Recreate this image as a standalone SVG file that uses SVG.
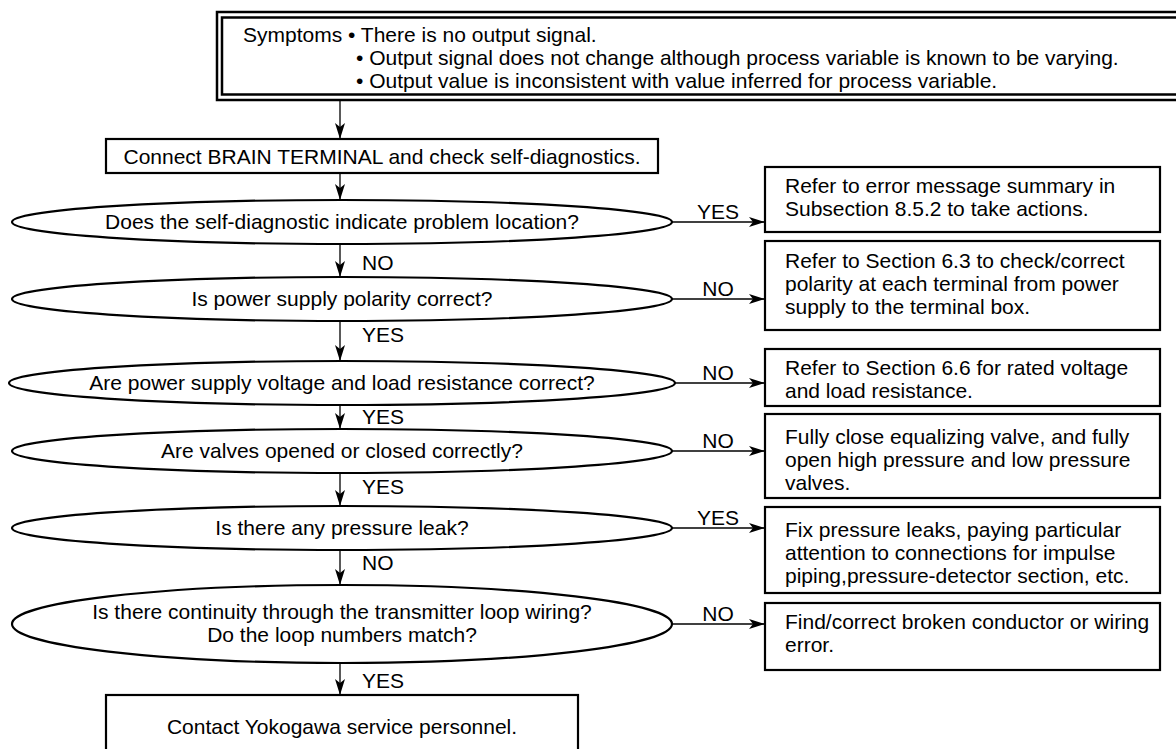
<svg xmlns="http://www.w3.org/2000/svg" width="1176" height="749" viewBox="0 0 1176 749">
<defs>
<marker id="ah" markerUnits="userSpaceOnUse" viewBox="0 0 16 10" refX="16" refY="5" markerWidth="16" markerHeight="10" orient="auto"><path d="M0,0 L16,5 L0,10 L4,5 Z" fill="#000"/></marker>
<style>
text{font-family:"Liberation Sans",Arial,Helvetica,sans-serif;font-size:21px;fill:#000}
.c{text-anchor:middle}
.box{fill:#fff;stroke:#000;stroke-width:2.2}
.ell{fill:#fff;stroke:#000;stroke-width:2.2}
.frame{fill:none;stroke:#000;stroke-width:2.5}
.con{stroke:#000;stroke-width:1.3;fill:none;marker-end:url(#ah)}
</style>
</defs>
<rect x="0" y="0" width="1176" height="749" fill="#fff"/>

<g id="connectors">
<line class="con" x1="340" y1="100" x2="340" y2="139"/>
<line class="con" x1="340" y1="173" x2="340" y2="200"/>
<line class="con" x1="340" y1="244" x2="340" y2="277"/>
<line class="con" x1="340" y1="321" x2="340" y2="361"/>
<line class="con" x1="340" y1="405" x2="340" y2="429"/>
<line class="con" x1="340" y1="473" x2="340" y2="506"/>
<line class="con" x1="340" y1="550" x2="340" y2="585"/>
<line class="con" x1="340" y1="663" x2="340" y2="695"/>
<line class="con" x1="672" y1="222" x2="765" y2="222"/>
<line class="con" x1="672" y1="299" x2="765" y2="299"/>
<line class="con" x1="675" y1="383" x2="765" y2="383"/>
<line class="con" x1="672" y1="451" x2="765" y2="451"/>
<line class="con" x1="672" y1="528" x2="765" y2="528"/>
<line class="con" x1="672" y1="624" x2="765" y2="624"/>
<text x="362" y="270">NO</text>
<text x="362" y="342">YES</text>
<text x="362" y="424">YES</text>
<text x="362" y="494">YES</text>
<text x="362" y="570">NO</text>
<text x="362" y="688">YES</text>
<text class="c" x="718" y="219">YES</text>
<text class="c" x="718" y="296">NO</text>
<text class="c" x="718" y="380">NO</text>
<text class="c" x="718" y="448">NO</text>
<text class="c" x="718" y="525">YES</text>
<text class="c" x="718" y="621">NO</text>
</g>

<g id="symptoms">
<rect class="frame" x="217" y="12" width="975" height="88"/>
<rect class="frame" x="222" y="17.5" width="965" height="77"/>
<text x="243" y="42">Symptoms • There is no output signal.</text>
<text x="356" y="65">• Output signal does not change although process variable is known to be varying.</text>
<text x="356" y="88">• Output value is inconsistent with value inferred for process variable.</text>
</g>

<g id="connect">
<rect class="box" x="106" y="139" width="552" height="34"/>
<text class="c" x="382" y="164">Connect BRAIN TERMINAL and check self-diagnostics.</text>
</g>

<g id="q1">
<ellipse class="ell" cx="342" cy="222" rx="330" ry="22"/>
<text class="c" x="342" y="229">Does the self-diagnostic indicate problem location?</text>
</g>
<g id="q2">
<ellipse class="ell" cx="342" cy="299" rx="330" ry="22"/>
<text class="c" x="342" y="306">Is power supply polarity correct?</text>
</g>
<g id="q3">
<ellipse class="ell" cx="342" cy="383" rx="333" ry="22"/>
<text class="c" x="342" y="390">Are power supply voltage and load resistance correct?</text>
</g>
<g id="q4">
<ellipse class="ell" cx="342" cy="451" rx="330" ry="22"/>
<text class="c" x="342" y="458">Are valves opened or closed correctly?</text>
</g>
<g id="q5">
<ellipse class="ell" cx="342" cy="528" rx="330" ry="22"/>
<text class="c" x="342" y="535">Is there any pressure leak?</text>
</g>
<g id="q6">
<ellipse class="ell" cx="342" cy="624" rx="330" ry="39"/>
<text class="c" x="342" y="619">Is there continuity through the transmitter loop wiring?</text>
<text class="c" x="342" y="642">Do the loop numbers match?</text>
</g>

<g id="a1">
<rect class="box" x="765" y="167" width="395" height="65"/>
<text x="785" y="193">Refer to error message summary in</text>
<text x="785" y="216">Subsection 8.5.2 to take actions.</text>
</g>
<g id="a2">
<rect class="box" x="765" y="241" width="395" height="89"/>
<text x="785" y="268">Refer to Section 6.3 to check/correct</text>
<text x="785" y="291">polarity at each terminal from power</text>
<text x="785" y="314">supply to the terminal box.</text>
</g>
<g id="a3">
<rect class="box" x="765" y="349" width="395" height="57"/>
<text x="785" y="375">Refer to Section 6.6 for rated voltage</text>
<text x="785" y="398">and load resistance.</text>
</g>
<g id="a4">
<rect class="box" x="765" y="414" width="395" height="84"/>
<text x="785" y="444">Fully close equalizing valve, and fully</text>
<text x="785" y="467">open high pressure and low pressure</text>
<text x="785" y="490">valves.</text>
</g>
<g id="a5">
<rect class="box" x="765" y="507" width="395" height="86"/>
<text x="785" y="537">Fix pressure leaks, paying particular</text>
<text x="785" y="560">attention to connections for impulse</text>
<text x="785" y="583">piping,pressure-detector section, etc.</text>
</g>
<g id="a6">
<rect class="box" x="765" y="603" width="395" height="67"/>
<text x="785" y="629">Find/correct broken conductor or wiring</text>
<text x="785" y="652">error.</text>
</g>

<g id="contact">
<rect class="box" x="106" y="695" width="472" height="70"/>
<text class="c" x="342" y="734">Contact Yokogawa service personnel.</text>
</g>
</svg>
